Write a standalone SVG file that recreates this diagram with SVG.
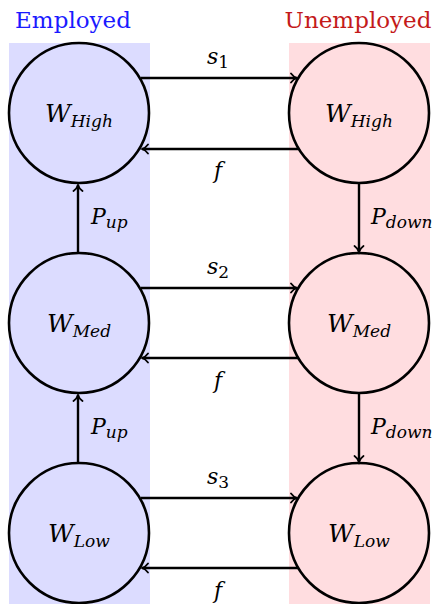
<svg xmlns="http://www.w3.org/2000/svg" width="439" height="604" viewBox="0 0 439 604" font-family="DejaVu Serif, serif">
<style>
.node{stroke:#000;stroke-width:2.6;fill:none}
.edge{stroke:#000;stroke-width:2.4;fill:none;marker-end:url(#arr)}
.m{font-style:italic;fill:#000}
.big{font-size:25px}
.sub{font-size:17px}
.lbl{font-size:22px}
.hdr{font-size:23px}
</style>
<defs>
<marker id="arr" markerWidth="10" markerHeight="12" refX="7.5" refY="6" orient="auto" markerUnits="userSpaceOnUse">
<path d="M1.5,1.5 Q4,5 7.5,6 Q4,7 1.5,10.5" fill="none" stroke="#000" stroke-width="1.8" stroke-linecap="round"/>
</marker>
</defs>
<rect x="9" y="43" width="141" height="561" fill="#dcdcff"/>
<rect x="289" y="43" width="141" height="561" fill="#ffdde0"/>
<text class="hdr" x="73" y="28" text-anchor="middle" fill="#1a1aff">Employed</text>
<text class="hdr" x="358" y="28" text-anchor="middle" fill="#c41a1a">Unemployed</text>
<g id="connectors">
<path class="edge" d="M141,78 H297"/>
<path class="edge" d="M298,149 H142"/>
<path class="edge" d="M141,288 H297"/>
<path class="edge" d="M298,358 H142"/>
<path class="edge" d="M141,498 H297"/>
<path class="edge" d="M298,568 H142"/>
<path class="edge" d="M78,253 V185"/>
<path class="edge" d="M78,463 V395"/>
<path class="edge" d="M359,184 V252"/>
<path class="edge" d="M359,394 V462"/>
<text class="m lbl" x="218" y="64" text-anchor="middle">s<tspan class="sub" font-style="normal" dy="4">1</tspan></text>
<text class="m lbl" x="218" y="178" text-anchor="middle">f</text>
<text class="m lbl" x="218" y="274" text-anchor="middle">s<tspan class="sub" font-style="normal" dy="4">2</tspan></text>
<text class="m lbl" x="218" y="388" text-anchor="middle">f</text>
<text class="m lbl" x="218" y="484" text-anchor="middle">s<tspan class="sub" font-style="normal" dy="4">3</tspan></text>
<text class="m lbl" x="218" y="598" text-anchor="middle">f</text>
<text class="m lbl" x="91" y="224">P<tspan class="sub" dy="4">up</tspan></text>
<text class="m lbl" x="91" y="434">P<tspan class="sub" dy="4">up</tspan></text>
<text class="m lbl" x="371" y="224">P<tspan class="sub" dy="4">down</tspan></text>
<text class="m lbl" x="371" y="434">P<tspan class="sub" dy="4">down</tspan></text>
</g>
<g id="eHigh"><circle class="node" cx="79" cy="113" r="70"/><text class="m big" x="79" y="122" text-anchor="middle">W<tspan class="sub" dy="5">High</tspan></text></g>
<g id="eMed"><circle class="node" cx="79" cy="323" r="70"/><text class="m big" x="79" y="332" text-anchor="middle">W<tspan class="sub" dy="5">Med</tspan></text></g>
<g id="eLow"><circle class="node" cx="79" cy="533" r="70"/><text class="m big" x="79" y="542" text-anchor="middle">W<tspan class="sub" dy="5">Low</tspan></text></g>
<g id="uHigh"><circle class="node" cx="359" cy="113" r="70"/><text class="m big" x="359" y="122" text-anchor="middle">W<tspan class="sub" dy="5">High</tspan></text></g>
<g id="uMed"><circle class="node" cx="359" cy="323" r="70"/><text class="m big" x="359" y="332" text-anchor="middle">W<tspan class="sub" dy="5">Med</tspan></text></g>
<g id="uLow"><circle class="node" cx="359" cy="533" r="70"/><text class="m big" x="359" y="542" text-anchor="middle">W<tspan class="sub" dy="5">Low</tspan></text></g>
</svg>
